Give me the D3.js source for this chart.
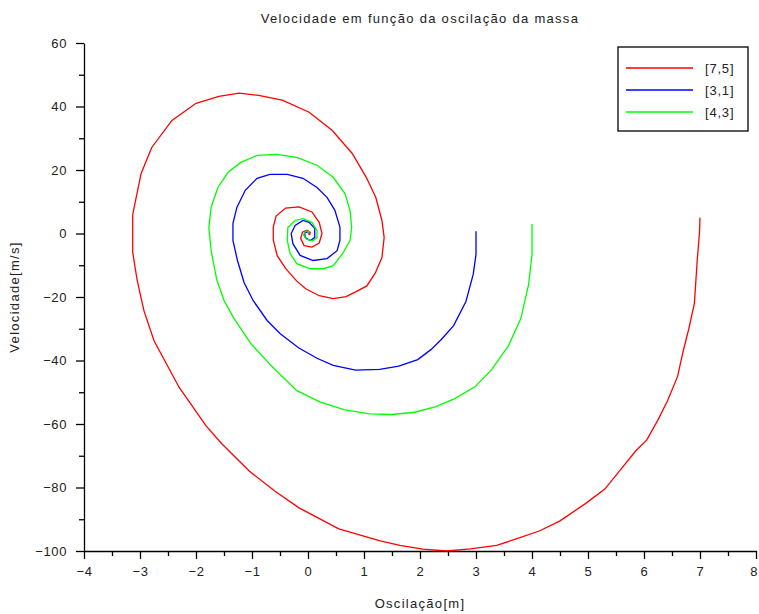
<!DOCTYPE html>
<html>
<head>
<meta charset="utf-8">
<script src="https://cdn.jsdelivr.net/npm/d3@7"></script>
<style>
  body { margin: 0; background: #fff; }
  svg text { font-family: "Liberation Sans", Arial, sans-serif; fill: #222; }
</style>
</head>
<body>
<div id="chart"></div>
<script>
// phase portraits: [x (m), v (m/s)]
const serie75 = [[7.0,5],[6.99,0],[6.95,-8.5],[6.9,-22],[6.8,-30],[6.7,-37],[6.6,-45],[6.42,-52.7],[6.24,-59],[6.05,-65],[5.85,-68.5],[5.6,-74],[5.3,-80.5],[4.96,-85],[4.5,-90.5],[4.13,-93.7],[3.77,-95.9],[3.37,-98.2],[2.9,-99.3],[2.48,-100],[2.05,-99.4],[1.64,-98.2],[1.29,-96.8],[0.55,-93],[-0.16,-86.4],[-0.6,-81],[-1.05,-74.8],[-1.54,-66.2],[-1.82,-60.6],[-2.3,-48.5],[-2.75,-33.8],[-2.93,-24.3],[-3.05,-14.8],[-3.13,-6],[-3.13,6],[-2.98,18.9],[-2.79,27.1],[-2.43,35.6],[-2.0,41],[-1.59,43.2],[-1.23,44.2],[-0.88,43.5],[-0.46,42],[0.02,38.2],[0.43,32.5],[0.79,25.2],[1.04,17.7],[1.21,11.4],[1.32,4.1],[1.36,-1.3],[1.32,-7.6],[1.2,-12.5],[1.05,-16.5],[0.86,-18.3],[0.68,-19.9],[0.45,-20.5],[0.2,-19.6],[-0.04,-17.4],[-0.2,-15],[-0.4,-11],[-0.55,-7],[-0.62,-2],[-0.62,2],[-0.57,5.5],[-0.4,8],[-0.16,8.4],[0.07,6.8],[0.2,3.5],[0.25,0],[0.2,-3],[0.07,-4.3],[-0.07,-3.8],[-0.13,-1.6],[-0.1,0.4],[-0.02,1.0],[0.04,0.4],[0.03,-0.3],[0,0]];
const serie31 = [[3,0.7],[3.0,-6.6],[2.95,-12.9],[2.82,-21.4],[2.6,-29],[2.38,-33.4],[2.2,-36.5],[1.96,-39.7],[1.62,-41.8],[1.28,-42.8],[0.85,-43],[0.45,-41.5],[0.16,-39.3],[-0.17,-36],[-0.5,-31.5],[-0.73,-27.4],[-0.98,-21.1],[-1.14,-15.5],[-1.26,-8.5],[-1.34,-2.2],[-1.34,3.2],[-1.27,8.2],[-1.12,13.6],[-0.91,17.4],[-0.68,18.6],[-0.37,18.6],[-0.09,17.4],[0.16,14.5],[0.34,11.4],[0.48,7.3],[0.57,2],[0.57,-2.2],[0.52,-5.4],[0.34,-7.9],[0.09,-8.5],[-0.14,-6.9],[-0.27,-3.2],[-0.3,0],[-0.23,2.5],[-0.09,4.1],[0.02,3.5],[0.12,1.6],[0.12,-1.3],[0.04,-2.2],[-0.05,-1.3],[-0.06,0.2],[0,0.6],[0.02,0]];
const serie43 = [[4.0,3],[4.0,-6.6],[3.94,-16],[3.8,-26.8],[3.58,-35.3],[3.28,-42.9],[2.98,-48.3],[2.62,-52],[2.27,-54.6],[1.9,-56.3],[1.5,-57],[1.1,-56.8],[0.64,-55.5],[0.21,-53],[-0.2,-49.5],[-0.66,-41.6],[-1.02,-34.7],[-1.32,-26.8],[-1.5,-21.1],[-1.63,-14.5],[-1.73,-5.4],[-1.77,1.9],[-1.73,8.2],[-1.61,14.5],[-1.43,19.2],[-1.2,22.4],[-0.91,24.6],[-0.55,24.9],[-0.2,24],[0.16,21.5],[0.45,17.7],[0.66,12.6],[0.75,7.3],[0.78,1.9],[0.75,-2.2],[0.62,-6.3],[0.45,-10.1],[0.27,-11.1],[0.04,-11.1],[-0.2,-9.5],[-0.32,-6.3],[-0.37,-2.2],[-0.36,1.9],[-0.23,4.1],[-0.09,4.7],[0.07,3.5],[0.16,1],[0.16,-1.3],[0.08,-2.3],[-0.03,-1.8],[-0.08,-0.4],[-0.04,0.8],[0.02,0.6],[0,0]];

const legendNames = ["[7,5]", "[3,1]", "[4,3]"];
const lineColors = ["#ff0000", "#0000ff", "#00ff00"];
const xTicks = [-4,-3,-2,-1,0,1,2,3,4,5,6,7,8];
const yTicks = [-100,-80,-60,-40,-20,0,20,40,60];

const W = 759, H = 614;
const margin = {top: 43, right: 3, bottom: 63, left: 84};

const svg = d3.select("#chart").append("svg")
  .attr("width", W).attr("height", H);

const x = d3.scaleLinear().domain([-4, 8]).range([margin.left, W - margin.right]);
const y = d3.scaleLinear().domain([-100, 60]).range([H - margin.bottom, margin.top]);

// minor ticks first
svg.append("g")
  .attr("transform", `translate(0,${H - margin.bottom})`)
  .call(d3.axisBottom(x).tickValues(d3.range(-3.5, 8, 1)).tickSize(5).tickFormat("").tickSizeOuter(0))
  .call(g => g.select(".domain").remove());
svg.append("g")
  .attr("transform", `translate(${margin.left},0)`)
  .call(d3.axisLeft(y).tickValues(d3.range(-90, 60, 20)).tickSize(5).tickFormat("").tickSizeOuter(0))
  .call(g => g.select(".domain").remove());

const xAxis = svg.append("g")
  .attr("transform", `translate(0,${H - margin.bottom})`)
  .call(d3.axisBottom(x).tickValues(xTicks).tickSize(8).tickSizeOuter(0).tickPadding(8));
const yAxis = svg.append("g")
  .attr("transform", `translate(${margin.left},0)`)
  .call(d3.axisLeft(y).tickValues(yTicks).tickSize(8).tickSizeOuter(0).tickPadding(9));

[xAxis, yAxis].forEach(g => {
  g.selectAll("path, line").attr("stroke", "#000").attr("stroke-width", 1.3);
  g.selectAll("text").style("font-size", "13px").style("letter-spacing", "0.6px").attr("fill", "#222");
});
svg.selectAll(".tick line").attr("stroke", "#000").attr("stroke-width", 1.3);
// last x label sits on the window edge
xAxis.selectAll(".tick text").filter(d => d === 8)
  .attr("text-anchor", "end").attr("dx", "1").style("letter-spacing", "0px");

const line = d3.line().x(d => x(d[0])).y(d => y(d[1]));
[serie75, serie31, serie43].forEach((s, i) => {
  svg.append("path")
    .datum(s)
    .attr("fill", "none")
    .attr("stroke", lineColors[i])
    .attr("stroke-width", 1.3)
    .attr("d", line);
});

// title and axis labels
svg.append("text")
  .attr("x", (margin.left + W - margin.right) / 2).attr("y", 23)
  .attr("text-anchor", "middle").style("font-size", "13px").style("letter-spacing", "1.3px")
  .text("Velocidade em função da oscilação da massa");
svg.append("text")
  .attr("x", (margin.left + W - margin.right) / 2).attr("y", 608)
  .attr("text-anchor", "middle").style("font-size", "13px").style("letter-spacing", "1.3px")
  .text("Oscilação[m]");
svg.append("text")
  .attr("transform", `translate(19,${(margin.top + H - margin.bottom) / 2}) rotate(-90)`)
  .attr("text-anchor", "middle").style("font-size", "13px").style("letter-spacing", "1.3px")
  .text("Velocidade[m/s]");

// legend
const lg = svg.append("g").attr("transform", "translate(618,47)");
lg.append("rect").attr("width", 130).attr("height", 84)
  .attr("fill", "#fff").attr("stroke", "#000").attr("stroke-width", 1.3);
legendNames.forEach((name, i) => {
  const yy = 21 + i * 22;
  lg.append("line").attr("x1", 8).attr("x2", 75).attr("y1", yy).attr("y2", yy)
    .attr("stroke", lineColors[i]).attr("stroke-width", 1.3);
  lg.append("text").attr("x", 87).attr("y", yy + 5).style("font-size", "13px")
    .style("letter-spacing", "0.8px").text(name);
});
</script>
</body>
</html>
